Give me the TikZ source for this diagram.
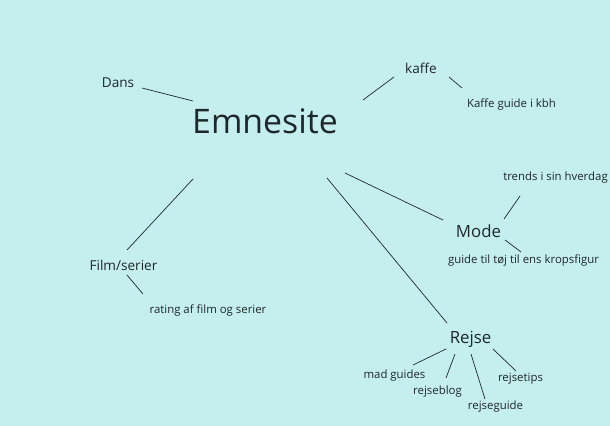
\documentclass[tikz,border=0pt]{standalone}
\usepackage{fontspec}
\setmainfont{Open Sans}
\definecolor{bg}{RGB}{197,239,238}
\definecolor{ink}{RGB}{30,40,42}
\begin{document}
\begin{tikzpicture}[x=1pt,y=-1pt,
  lbl/.style={inner sep=0pt,text=ink,yshift=-0.8pt,font=\fontsize{11.4}{14}\selectfont},
  mid/.style={inner sep=0pt,text=ink,yshift=-0.8pt,font=\fontsize{13.6}{16}\selectfont},
  big/.style={inner sep=0pt,text=ink,yshift=-0.8pt,font=\fontsize{16.8}{20}\selectfont},
  huge/.style={inner sep=0pt,text=ink,yshift=0pt,font=\fontsize{33.8}{40}\selectfont},
  link/.style={draw=ink,line width=0.7pt}]
\fill[bg] (0,0) rectangle (610,426);
\useasboundingbox (0,0) rectangle (610,426);
% texts
\node[huge] (emne) at (265,121) {Emnesite};
\node[mid] (dans) at (118,82) {Dans};
\node[mid] (kaffe) at (421,68) {kaffe};
\node[lbl] (kguide) at (511.5,104) {Kaffe guide i kbh};
\node[lbl] (trends) at (555.5,177) {trends i sin hverdag};
\node[big] (mode) at (478.5,230) {Mode};
\node[lbl] (toej) at (523.5,260) {guide til tøj til ens kropsfigur};
\node[mid] (film) at (123.5,265) {Film/serier};
\node[lbl] (rating) at (208,310) {rating af film og serier};
\node[big] (rejse) at (470.5,339) {Rejse};
\node[lbl] (mad) at (394.5,375) {mad guides};
\node[lbl] (blog) at (437.5,391) {rejseblog};
\node[lbl] (rguide) at (495.5,406) {rejseguide};
\node[lbl] (tips) at (520.5,378) {rejsetips};
% line ends
\coordinate (dA) at (142,88); \coordinate (dB) at (193,101);
\coordinate (kA) at (363,100); \coordinate (kB) at (394,77);
\coordinate (kgA) at (449,77); \coordinate (kgB) at (462,88);
\coordinate (fA) at (193,179); \coordinate (fB) at (127,250);
\coordinate (rA) at (127,275); \coordinate (rB) at (143,294);
\coordinate (mA) at (345,173); \coordinate (mB) at (443,220);
\coordinate (jA) at (327,178); \coordinate (jB) at (447,323);
\coordinate (tA) at (520,196); \coordinate (tB) at (504,219);
\coordinate (gA) at (505,240); \coordinate (gB) at (521,252);
\coordinate (madA) at (446,349); \coordinate (madB) at (413,365);
\coordinate (blA) at (455,354); \coordinate (blB) at (446,378);
\coordinate (rgA) at (471,354); \coordinate (rgB) at (485,399);
\coordinate (tiA) at (493,349); \coordinate (tiB) at (516,371);
\draw[link] (dA) -- (dB);
\draw[link] (kA) -- (kB);
\draw[link] (kgA) -- (kgB);
\draw[link] (fA) -- (fB);
\draw[link] (rA) -- (rB);
\draw[link] (mA) -- (mB);
\draw[link] (jA) -- (jB);
\draw[link] (tA) -- (tB);
\draw[link] (gA) -- (gB);
\draw[link] (madA) -- (madB);
\draw[link] (blA) -- (blB);
\draw[link] (rgA) -- (rgB);
\draw[link] (tiA) -- (tiB);
\end{tikzpicture}
\end{document}
